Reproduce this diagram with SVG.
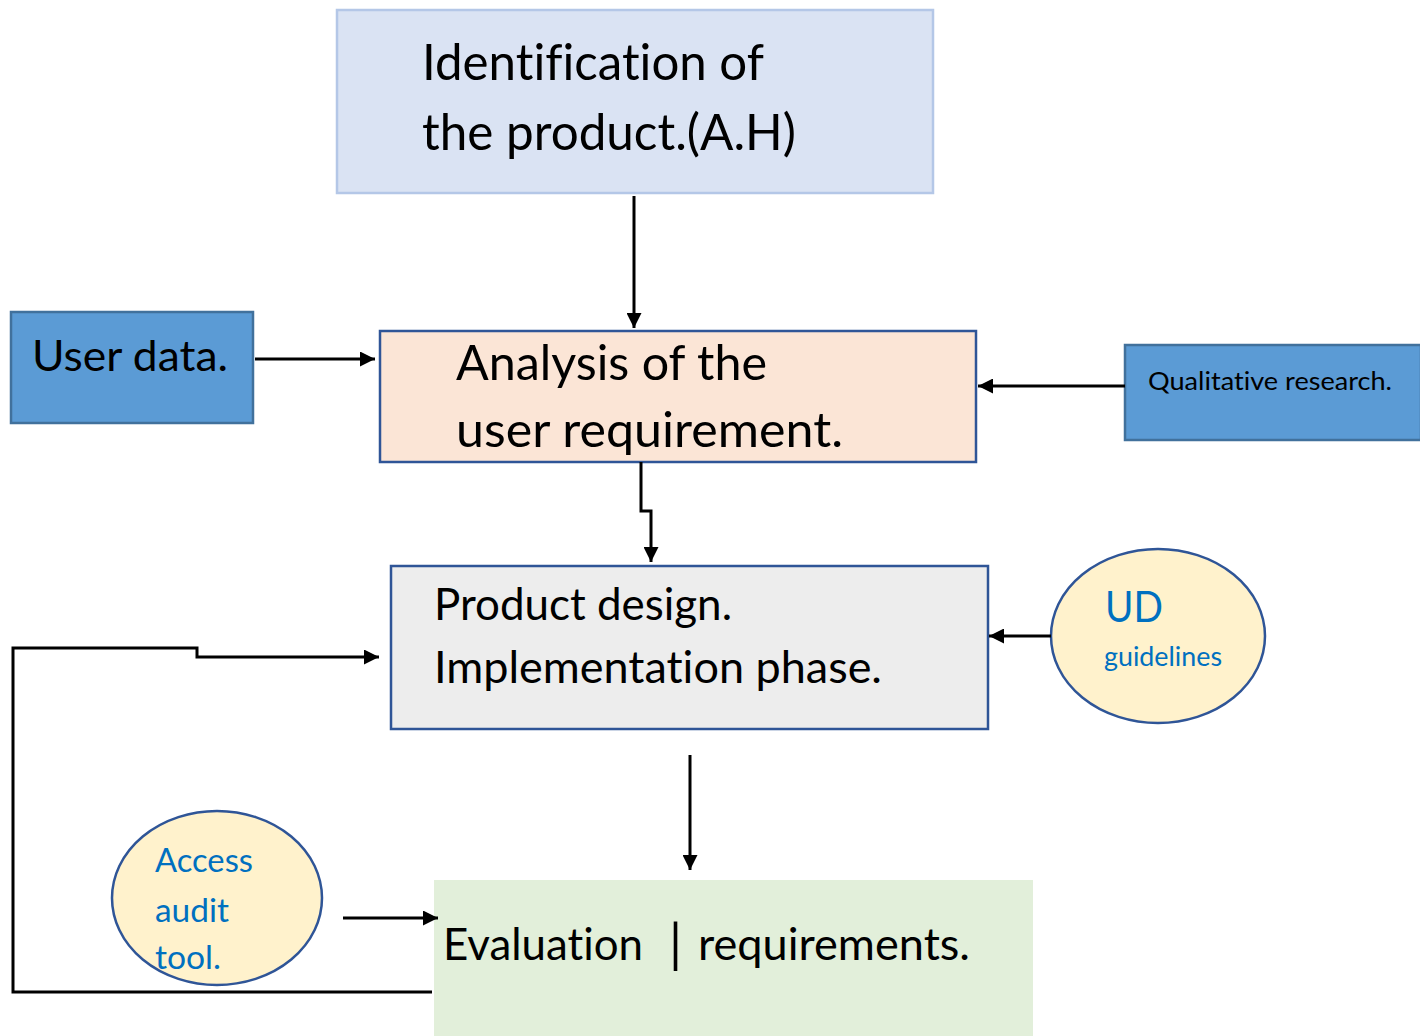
<svg xmlns="http://www.w3.org/2000/svg" width="1420" height="1036" viewBox="0 0 1420 1036">
<style>
text{font-family:Lato,"Open Sans","Liberation Sans",sans-serif;fill:#000;font-variant-ligatures:none}
.blue{fill:#0070c0}
.conn{fill:none;stroke:#000;stroke-width:3}
</style>
<defs>
<marker id="ah" viewBox="0 0 10 10" refX="10" refY="5" markerWidth="5" markerHeight="5" orient="auto" markerUnits="strokeWidth">
<path d="M0,0 L10,5 L0,10 z" fill="#000"/>
</marker>
</defs>
<rect width="1420" height="1036" fill="#fff"/>
<g id="node-identification">
<rect x="337" y="10" width="596" height="183" fill="#dae3f3" stroke="#b4c7e7" stroke-width="2.5"/>
<text x="422" y="80" font-size="51" textLength="342" lengthAdjust="spacingAndGlyphs">Identification of</text>
<text x="422" y="150" font-size="51" textLength="374" lengthAdjust="spacingAndGlyphs">the product.(A.H)</text>
</g>
<g id="node-user-data">
<rect x="11" y="312" width="242" height="111" fill="#5b9bd5" stroke="#41719c" stroke-width="2.5"/>
<text x="32" y="371" font-size="43" textLength="196" lengthAdjust="spacingAndGlyphs">User data.</text>
</g>
<g id="node-analysis">
<rect x="380" y="331" width="596" height="131" fill="#fbe5d6" stroke="#2f5597" stroke-width="2.5"/>
<text x="456" y="380" font-size="48" textLength="311" lengthAdjust="spacingAndGlyphs">Analysis of the</text>
<text x="456" y="447" font-size="48" textLength="387" lengthAdjust="spacingAndGlyphs">user requirement.</text>
</g>
<g id="node-qualitative">
<rect x="1125" y="345" width="296" height="95" fill="#5b9bd5" stroke="#41719c" stroke-width="2.5"/>
<text x="1148" y="390" font-size="25" textLength="244" lengthAdjust="spacingAndGlyphs">Qualitative research.</text>
</g>
<g id="node-design">
<rect x="391" y="566" width="597" height="163" fill="#ededed" stroke="#2f5597" stroke-width="2.5"/>
<text x="434" y="620" font-size="44" textLength="298" lengthAdjust="spacingAndGlyphs">Product design.</text>
<text x="434" y="683" font-size="44" textLength="448" lengthAdjust="spacingAndGlyphs">Implementation phase.</text>
</g>
<g id="node-ud">
<ellipse cx="1158" cy="636" rx="107" ry="87" fill="#fff2cc" stroke="#2f5597" stroke-width="2.5"/>
<text class="blue" x="1105" y="622" font-size="42" textLength="58" lengthAdjust="spacingAndGlyphs">UD</text>
<text class="blue" x="1104" y="666" font-size="27" textLength="118" lengthAdjust="spacingAndGlyphs">guidelines</text>
</g>
<g id="node-evaluation">
<rect x="434" y="880" width="599" height="156" fill="#e2efda"/>
<text x="443" y="960" font-size="44" xml:space="preserve"><tspan x="443" textLength="200" lengthAdjust="spacingAndGlyphs">Evaluation</tspan><tspan x="669" y="962" font-size="52">|</tspan><tspan x="698" y="960" textLength="272" lengthAdjust="spacingAndGlyphs">requirements.</tspan></text>
</g>
<g id="node-access">
<ellipse cx="217" cy="898" rx="105" ry="87" fill="#fff2cc" stroke="#2f5597" stroke-width="2.5"/>
<text class="blue" x="155" y="872" font-size="33" textLength="98" lengthAdjust="spacingAndGlyphs">Access</text>
<text class="blue" x="155" y="922" font-size="33" textLength="74" lengthAdjust="spacingAndGlyphs">audit</text>
<text class="blue" x="155" y="969" font-size="33" textLength="66" lengthAdjust="spacingAndGlyphs">tool.</text>
</g>
<g id="connectors">
<path class="conn" d="M634,196 V328" marker-end="url(#ah)"/>
<path class="conn" d="M255,359 H375" marker-end="url(#ah)"/>
<path class="conn" d="M1125,386 H978" marker-end="url(#ah)"/>
<path class="conn" d="M641,462 V511 H651 V562" marker-end="url(#ah)"/>
<path class="conn" d="M1051,636 H989" marker-end="url(#ah)"/>
<path class="conn" d="M690,755 V870" marker-end="url(#ah)"/>
<path class="conn" d="M343,918 H438" marker-end="url(#ah)"/>
<path class="conn" d="M432,992 H13 V648 H197 V657 H379" marker-end="url(#ah)"/>
</g>
</svg>
